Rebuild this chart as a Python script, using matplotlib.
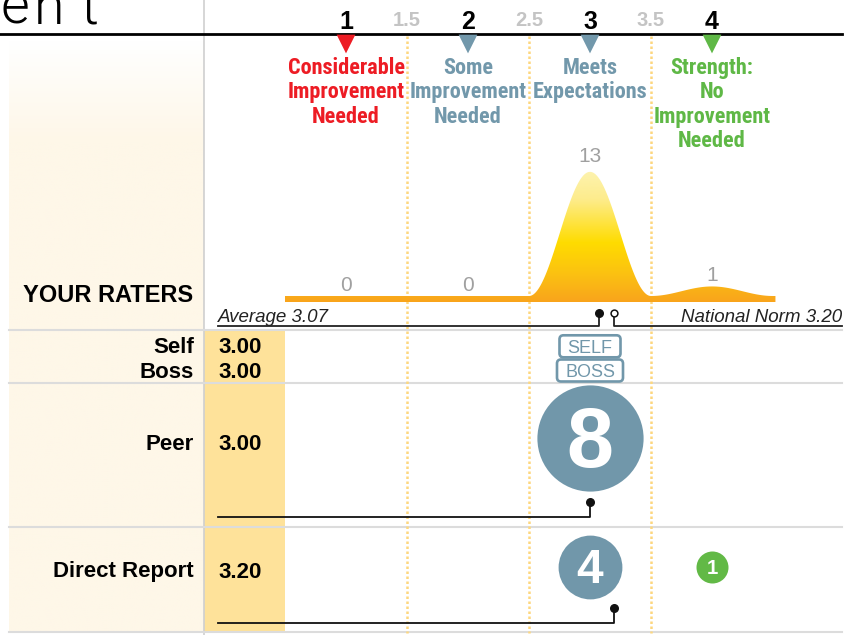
import numpy as np
import matplotlib.pyplot as plt
from matplotlib.patches import Rectangle, FancyBboxPatch, Polygon
from matplotlib.colors import LinearSegmentedColormap

# rating scale
levels = [1, 2, 3, 4]
half_levels = [1.5, 2.5, 3.5]
level_names = [["Considerable", "Improvement", "Needed"],
               ["Some", "Improvement", "Needed"],
               ["Meets", "Expectations"],
               ["Strength:", "No", "Improvement", "Needed"]]
level_colors = ["#ed1c24", "#7298ab", "#7298ab", "#5fb846"]

# all raters
rater_counts = [0, 0, 13, 1]
average = 3.07
norm = 3.20

# rater groups
groups = ["Self", "Boss", "Peer", "Direct Report"]
group_scores = [3.00, 3.00, 3.00, 3.20]
peer_counts = [0, 0, 8, 0]
dr_counts = [0, 0, 4, 1]

STEEL = "#7197aa"
GREEN = "#62b946"
SANS = ["Liberation Sans", "DejaVu Sans"]
NARROW = ["Roboto Condensed", "PT Sans Narrow", "Liberation Sans"]

W, H = 856, 635
fig = plt.figure(figsize=(W / 100, H / 100), dpi=100)

# layout axes, pixel units
lay = fig.add_axes([0, 0, 1, 1])
lay.set_xlim(0, W)
lay.set_ylim(H, 0)
lay.axis("off")

# score axes: 1 at 346px, 122px per point
ax = fig.add_axes([0, 0, 1, 1])
x0, x1 = 1 - 346 / 122, 1 + (W - 346) / 122
ax.set_xlim(x0, x1)
ax.set_ylim(H, 0)
ax.axis("off")
px = lambda x: x0 + x / W * (x1 - x0)

# left panel background
cream = np.array([254, 247, 232]) / 255
yy = np.linspace(36, 633, 300)
t = np.clip((yy - 40) / 100, 0, 1)[:, None]
grad = (1 - t) * np.ones(3) + t * cream
lay.imshow(grad[:, None, :], extent=(9, 204, 633, 36), aspect="auto", zorder=0)
lay.add_patch(Rectangle((204, 330), 81, 303, color="#fee29a", zorder=1, lw=0))
lay.plot([204, 204], [0, H], color="#cfcfcf", lw=1.2, zorder=2)
lay.plot([0, 842], [34, 34], color="black", lw=2, zorder=3)
for y in [330, 383, 527, 632]:
    lay.plot([9, 842], [y, y], color="#dcdcdc", lw=1.5, zorder=2)

# cut-off title, letter spaced
for ch, xc in zip("ent", [15, 49, 89]):
    lay.text(xc, 24, ch, ha="center", va="baseline", fontsize=40,
             family=["Roboto", "DejaVu Sans"], fontweight=300)

lay.text(193, 302.5, "YOUR RATERS", ha="right", va="baseline", fontsize=17,
         fontweight="bold", family=SANS)
label_base = [353, 378, 450, 577.5]
for g, s, b in zip(groups, group_scores, label_base):
    lay.text(194, b, g, ha="right", va="baseline", fontsize=16, fontweight="bold", family=SANS)
    lay.text(218, b, f"{s:.2f}", ha="left", va="baseline", fontsize=16, fontweight="bold", family=SANS)

# scale header
for v in levels:
    ax.text(v, 29, str(v), ha="center", va="baseline", fontsize=18, fontweight="bold", family=SANS)
for v in half_levels:
    ax.text(v, 25.7, str(v), ha="center", va="baseline", fontsize=14.5, fontweight="bold",
            color="#c4c4c4", family=SANS)
ax.scatter(levels, [44] * 4, marker="v", s=13.5 ** 2, c=level_colors, lw=0, zorder=5)
for v, lines, c in zip(levels, level_names, level_colors):
    for j, line in enumerate(lines):
        ax.text(v, 74 + 24.3 * j, line, ha="center", va="baseline", fontsize=16,
                fontweight="bold", color=c, family=NARROW)

ax.vlines(half_levels, 36, 633, colors="#fdd77e", linestyles=(0, (1, 1)), lw=1.8, zorder=1)

# distribution curve
xs = np.linspace(0.5, 4.52, 900)
height = np.zeros_like(xs)
for lv, c in zip(levels, rater_counts):
    d = np.abs(xs - lv)
    height += c * np.where(d < 0.5, np.cos(np.pi * d) ** 2, 0)
top = 296 - 9.55 * height
verts = np.column_stack([np.r_[xs, xs[::-1]], np.r_[top, np.full_like(xs, 302)]])
shape = Polygon(verts, closed=True, fc="none", ec="none")
ax.add_patch(shape)
cmap = LinearSegmentedColormap.from_list("hill", [(0, "#fdf3b0"), (0.22, "#fdec8c"),
                                                  (0.55, "#ffdc00"), (0.8, "#fbc012"),
                                                  (1, "#f9a41c")])
img = ax.imshow(np.linspace(0, 1, 256)[:, None], cmap=cmap, aspect="auto",
                extent=(0.5, 4.52, 302, 170), zorder=3)
img.set_clip_path(shape)
for lv, c in zip(levels, rater_counts):
    peak = 296 - 9.55 * c
    ax.text(lv, peak - 5 - 0.35 * c, str(c), ha="center", va="baseline", fontsize=15,
            color="#a0a0a0", family=SANS)

# average and norm
ax.plot([px(218), average, average], [326, 326, 313], color="#222222", lw=1.3, zorder=4)
ax.scatter([average], [313], s=30, c="#111111", zorder=5)
ax.plot([norm, norm, px(842)], [316.5, 326, 326], color="#222222", lw=1.3, zorder=4)
ax.scatter([norm], [313], s=24, facecolors="white", edgecolors="#111111", lw=1.1, zorder=5)
ax.text(px(218), 322, f"Average {average:.2f}", ha="left", va="baseline", fontsize=13.5,
        style="italic", family=SANS, color="#222222")
ax.text(px(842), 322, f"National Norm {norm:.2f}", ha="right", va="baseline", fontsize=13.5,
        style="italic", family=SANS, color="#222222")

# self / boss tags
for name, s, yc, w, h in [("SELF", group_scores[0], 346.3, 61, 22), ("BOSS", group_scores[1], 370.5, 66, 22)]:
    box = FancyBboxPatch((s - w / 244, yc - h / 2), w / 122, h,
                         boxstyle="round,pad=0,rounding_size=%f" % (4 / 122),
                         mutation_aspect=122, fc="white", ec=STEEL, lw=1.9, zorder=5)
    ax.add_patch(box)
    ax.text(s, yc + 6.3, name, ha="center", va="baseline", fontsize=13, color=STEEL,
            family=SANS, zorder=6)

# bubbles
def bubble(counts, y, score, mark_y):
    for lv, c in zip(levels, counts):
        if c == 0:
            continue
        r = 10.7 + 5.3 * c
        col = GREEN if lv == 4 else STEEL
        ax.scatter([lv], [y], s=(2 * r * 0.72) ** 2, c=col, lw=0, zorder=5)
        fs = 1.246 * r - 5.3
        ax.text(lv, y + 0.478 * fs, str(c), ha="center", va="baseline", fontsize=fs,
                fontweight="bold", color="white", family=SANS, zorder=6)
    ax.plot([score, score, px(218)], [mark_y, mark_y + 14.5, mark_y + 14.5],
            color="#111111", lw=1.3, zorder=4)
    ax.scatter([score], [mark_y], s=30, c="#111111", zorder=5)

bubble(peer_counts, 438, group_scores[2], 502)
bubble(dr_counts, 567, group_scores[3], 608)

fig.savefig("out.png", dpi=100)
